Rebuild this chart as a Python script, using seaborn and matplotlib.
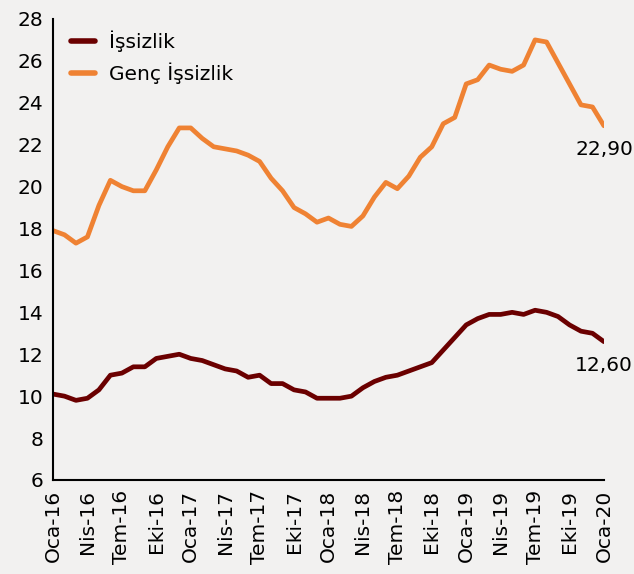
import seaborn as sns
import matplotlib.pyplot as plt
import pandas as pd

# Monthly data, Oca-16 .. Oca-20
months = list(range(49))
issizlik = [10.1, 10.0, 9.8, 9.9, 10.3, 11.0, 11.1, 11.4, 11.4, 11.8, 11.9, 12.0,
            11.8, 11.7, 11.5, 11.3, 11.2, 10.9, 11.0, 10.6, 10.6, 10.3, 10.2, 9.9,
            9.9, 9.9, 10.0, 10.4, 10.7, 10.9, 11.0, 11.2, 11.4, 11.6, 12.2, 12.8,
            13.4, 13.7, 13.9, 13.9, 14.0, 13.9, 14.1, 14.0, 13.8, 13.4, 13.1, 13.0,
            12.6]
genc_issizlik = [17.9, 17.7, 17.3, 17.6, 19.1, 20.3, 20.0, 19.8, 19.8, 20.8, 21.9, 22.8,
                 22.8, 22.3, 21.9, 21.8, 21.7, 21.5, 21.2, 20.4, 19.8, 19.0, 18.7, 18.3,
                 18.5, 18.2, 18.1, 18.6, 19.5, 20.2, 19.9, 20.5, 21.4, 21.9, 23.0, 23.3,
                 24.9, 25.1, 25.8, 25.6, 25.5, 25.8, 27.0, 26.9, 25.9, 24.9, 23.9, 23.8,
                 22.9]
tick_labels = ["Oca-16", "Nis-16", "Tem-16", "Eki-16", "Oca-17", "Nis-17", "Tem-17",
               "Eki-17", "Oca-18", "Nis-18", "Tem-18", "Eki-18", "Oca-19", "Nis-19",
               "Tem-19", "Eki-19", "Oca-20"]

df = pd.DataFrame({"ay": months, "İşsizlik": issizlik, "Genç İşsizlik": genc_issizlik})
long_df = df.melt(id_vars="ay", var_name="seri", value_name="oran")

bg = "#F2F1F0"
sns.set_style("white")
plt.rcParams["font.family"] = ["DejaVu Sans"]
plt.rcParams["text.color"] = "black"
plt.rcParams["xtick.color"] = "black"
plt.rcParams["ytick.color"] = "black"

fig = plt.figure(figsize=(6.34, 5.74), dpi=100, facecolor=bg)
ax = fig.add_axes([0.0836, 0.1638, 0.869, 0.8032])
ax.set_facecolor(bg)

sns.lineplot(
    data=long_df, x="ay", y="oran", hue="seri",
    palette={"İşsizlik": "#6B0000", "Genç İşsizlik": "#EF8233"},
    linewidth=3.4, ax=ax,
)

ax.set_xlim(0, 48)
ax.set_ylim(6, 28)
ax.set_yticks(range(6, 29, 2))
ax.set_xticks(months[::3])
ax.set_xticklabels(tick_labels, rotation=90)
ax.set_xlabel("")
ax.set_ylabel("")
ax.tick_params(axis="both", labelsize=14.5, length=5, width=1.2,
               direction="out", pad=2)
for side in ["top", "right"]:
    ax.spines[side].set_visible(False)
for side in ["left", "bottom"]:
    ax.spines[side].set_color("black")
    ax.spines[side].set_linewidth(1.5)

leg = ax.legend(loc="upper left", frameon=False, fontsize=14.5, handlelength=1.2,
                handletextpad=0.7, bbox_to_anchor=(0.0, 1.015), labelspacing=0.55)
for line in leg.get_lines():
    line.set_linewidth(4)

ax.annotate("22,90", xy=(48, genc_issizlik[-1]), xytext=(0, -17),
            textcoords="offset points", ha="center", va="center", fontsize=14.5)
ax.annotate("12,60", xy=(48, issizlik[-1]), xytext=(0, -17),
            textcoords="offset points", ha="center", va="center", fontsize=14.5)

fig.savefig("out.png", dpi=100, facecolor=bg)
